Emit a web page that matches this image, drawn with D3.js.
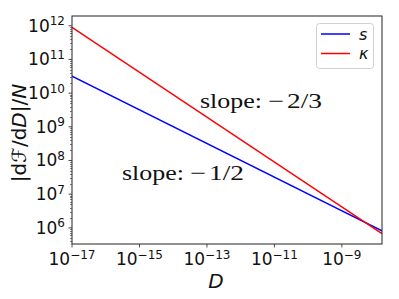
<!DOCTYPE html>
<html>
<head>
<meta charset="utf-8">
<script src="https://cdn.jsdelivr.net/npm/d3@7"></script>
<style>
  body { margin: 0; background: #fff; }
  svg { display: block; }
</style>
</head>
<body>
<div id="chart"></div>
<script>
// data (log-log, two straight lines)
let seriesNames = ["s", "κ"]
let seriesColors = ["#0000ff", "#ff0000"]
let dValues = [1e-17, 1.55e-8]
let sValues = [3.2e10, 8.1e5]
let kappaValues = [9.0e11, 6.7e5]
let xTickExps = [-17, -15, -13, -11, -9]
let yTickExps = [6, 7, 8, 9, 10, 11, 12]
let slopeLabels = [["−", "2/3"], ["−", "1/2"]]

let width = 399
let height = 299
let margin = {top: 16, right: 17, bottom: 55, left: 72}

let xScale = d3.scaleLog()
  .domain([1e-17, 1.55e-8])
  .range([margin.left, width - margin.right])
let yScale = d3.scaleLog()
  .domain([Math.pow(10, 5.52), Math.pow(10, 12.29)])
  .range([height - margin.bottom, margin.top])

let svg = d3.select("#chart").append("svg")
  .attr("width", width)
  .attr("height", height)
  .style("font-family", "'DejaVu Sans', sans-serif")

let plotW = width - margin.left - margin.right
let plotH = height - margin.top - margin.bottom

// lines
let series = [sValues, kappaValues]
let line = d3.line()
  .x(d => xScale(d[0]))
  .y(d => yScale(d[1]))

svg.append("clipPath").attr("id", "clip")
  .append("rect")
  .attr("x", margin.left).attr("y", margin.top)
  .attr("width", plotW).attr("height", plotH)

svg.append("g")
  .attr("clip-path", "url(#clip)")
  .selectAll("path")
  .data(series)
  .join("path")
  .attr("d", vals => line(dValues.map((d, i) => [d, vals[i]])))
  .attr("fill", "none")
  .attr("stroke", (d, i) => seriesColors[i])
  .attr("stroke-width", 1.5)

// y minor ticks
let minorY = []
for (let e = 5; e <= 12; e++) {
  for (let m = 2; m <= 9; m++) {
    let v = m * Math.pow(10, e)
    if (v >= yScale.domain()[0] && v <= yScale.domain()[1]) minorY.push(v)
  }
}
svg.append("g")
  .selectAll("line")
  .data(minorY)
  .join("line")
  .attr("x1", margin.left - 2).attr("x2", margin.left)
  .attr("y1", d => Math.round(yScale(d)) + 0.5)
  .attr("y2", d => Math.round(yScale(d)) + 0.5)
  .attr("stroke", "#333")
  .attr("stroke-width", 0.6)

// y major ticks
let yTicks = svg.append("g")
  .selectAll("g")
  .data(yTickExps)
  .join("g")
  .attr("transform", e => `translate(0,${yScale(Math.pow(10, e))})`)
yTicks.append("line")
  .attr("x1", margin.left - 3.5).attr("x2", margin.left)
  .attr("stroke", "#222").attr("stroke-width", 0.8)
let yText = yTicks.append("text")
  .attr("x", margin.left - 7)
  .attr("y", 6)
  .attr("text-anchor", "end")
  .style("font-size", "17px")
  .attr("fill", "#111")
yText.append("tspan").text("10")
yText.append("tspan")
  .attr("dy", -6.5)
  .style("font-size", "12px")
  .text(e => e)

// x major ticks
let xTicks = svg.append("g")
  .selectAll("g")
  .data(xTickExps)
  .join("g")
  .attr("transform", e => `translate(${xScale(Math.pow(10, e))},${height - margin.bottom})`)
xTicks.append("line")
  .attr("y1", 0).attr("y2", 3.5)
  .attr("stroke", "#222").attr("stroke-width", 0.8)
let xText = xTicks.append("text")
  .attr("x", 0)
  .attr("y", 21)
  .attr("text-anchor", "middle")
  .style("font-size", "17px")
  .attr("fill", "#111")
xText.append("tspan").text("10")
xText.append("tspan")
  .attr("dy", -6.5)
  .style("font-size", "12px")
  .text(e => "−" + Math.abs(e))

// frame
svg.append("rect")
  .attr("x", margin.left).attr("y", margin.top)
  .attr("width", plotW).attr("height", plotH)
  .attr("fill", "none")
  .attr("stroke", "#222")
  .attr("stroke-width", 1)

// axis labels
svg.append("text")
  .attr("x", 216)
  .attr("y", 288)
  .attr("text-anchor", "middle")
  .style("font-size", "20px")
  .style("font-style", "italic")
  .attr("fill", "#111")
  .text("D")

let yLabel = svg.append("text")
  .attr("transform", "translate(26,133) rotate(-90)")
  .attr("text-anchor", "middle")
  .style("font-size", "20px")
  .attr("fill", "#111")
yLabel.append("tspan").text("|d")
yLabel.append("tspan").style("font-style", "italic").text("ℱ")
yLabel.append("tspan").text("/d")
yLabel.append("tspan").style("font-style", "italic").text("D")
yLabel.append("tspan").text("|/")
yLabel.append("tspan").style("font-style", "italic").text("N")

// slope annotations: "slope:" then a wide minus then the fraction
let slopePos = [[200, 108], [122, 180]]
slopeLabels.forEach((lab, i) => {
  let x0 = slopePos[i][0]
  let y0 = slopePos[i][1]
  let parts = [
    {t: "slope:", x: x0, w: 62},
    {t: lab[0], x: x0 + 68, w: 16},
    {t: lab[1], x: x0 + 87, w: 35}
  ]
  svg.append("g")
    .selectAll("text")
    .data(parts)
    .join("text")
    .attr("x", d => d.x).attr("y", y0)
    .attr("textLength", d => d.w)
    .attr("lengthAdjust", "spacingAndGlyphs")
    .style("font-family", "'Liberation Serif', serif")
    .style("font-size", "21px")
    .attr("fill", "#111")
    .text(d => d.t)
})

// legend
let legend = svg.append("g")
legend.append("rect")
  .attr("x", 316.5).attr("y", 23.5)
  .attr("width", 57).attr("height", 45)
  .attr("rx", 3)
  .attr("fill", "#fff")
  .attr("fill-opacity", 0.8)
  .attr("stroke", "#d0d0d0")
  .attr("stroke-width", 1)
let legItems = legend.selectAll("g.item")
  .data(seriesNames)
  .join("g")
  .attr("class", "item")
  .attr("transform", (d, i) => `translate(0,${34 + i * 19.5})`)
legItems.append("line")
  .attr("x1", 321).attr("x2", 350)
  .attr("stroke", (d, i) => seriesColors[i])
  .attr("stroke-width", 1.5)
legItems.append("text")
  .attr("x", 359)
  .attr("y", 5.5)
  .style("font-size", "16px")
  .style("font-style", "italic")
  .attr("fill", "#111")
  .text(d => d)
</script>
</body>
</html>
